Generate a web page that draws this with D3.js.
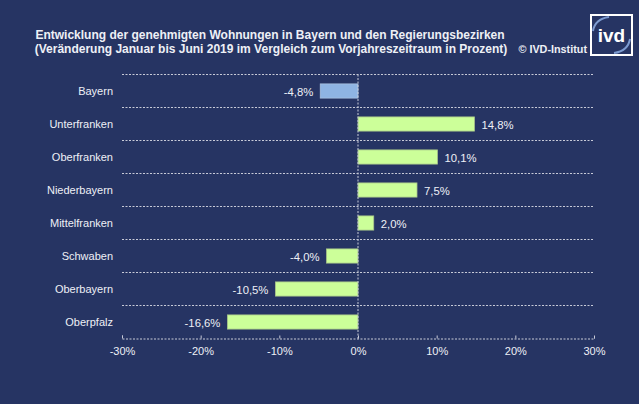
<!DOCTYPE html>
<html>
<head>
<meta charset="utf-8">
<script src="https://cdn.jsdelivr.net/npm/d3@7"></script>
<style>
  html, body { margin: 0; padding: 0; background: #263463; }
  svg { display: block; font-family: "Liberation Sans", Arial, sans-serif; }
</style>
</head>
<body>
<svg id="chart" width="639" height="404"></svg>
<script>
// data
const categories = ["Bayern", "Unterfranken", "Oberfranken", "Niederbayern", "Mittelfranken", "Schwaben", "Oberbayern", "Oberpfalz"];
const values = [-4.8, 14.8, 10.1, 7.5, 2.0, -4.0, -10.5, -16.6];
const ticks = [-30, -20, -10, 0, 10, 20, 30];
const titleLines = [
  "Entwicklung der genehmigten Wohnungen in Bayern und den Regierungsbezirken",
  "(Veränderung Januar bis Juni 2019 im Vergleich zum Vorjahreszeitraum in Prozent)"
];

const svg = d3.select("#chart");
const textColor = "#eef0f6";
const gridColor = "#c8cbd8";

svg.append("rect").attr("width", 639).attr("height", 404).attr("fill", "#263463");

// titel
svg.append("text")
  .attr("x", 270).attr("y", 39)
  .attr("text-anchor", "middle")
  .attr("font-size", 12).attr("font-weight", "bold")
  .attr("fill", textColor)
  .text(titleLines[0]);
svg.append("text")
  .attr("x", 271).attr("y", 53)
  .attr("text-anchor", "middle")
  .attr("font-size", 12).attr("font-weight", "bold")
  .attr("fill", textColor)
  .text(titleLines[1]);
svg.append("text")
  .attr("x", 587).attr("y", 53)
  .attr("text-anchor", "end")
  .attr("font-size", 10.8).attr("font-weight", "bold")
  .attr("fill", textColor)
  .text("© IVD-Institut");

// logo
const logo = svg.append("g").attr("transform", "translate(591,15)");
logo.append("rect").attr("x", 0).attr("y", 0).attr("width", 41).attr("height", 40)
  .attr("fill", "#263463").attr("stroke", "#ffffff").attr("stroke-width", 2);
logo.append("path").attr("d", "M2,16 Q4,4 18,2").attr("fill", "none")
  .attr("stroke", "#7d9bd0").attr("stroke-width", 2);
logo.append("path").attr("d", "M39,24 Q37,36 23,38").attr("fill", "none")
  .attr("stroke", "#7d9bd0").attr("stroke-width", 2);
logo.append("text").attr("x", 20.5).attr("y", 27)
  .attr("text-anchor", "middle").attr("font-size", 19).attr("font-weight", "bold")
  .attr("fill", "#ffffff").text("ivd");

// scales
const x = d3.scaleLinear().domain([-30, 30]).range([122, 594]);
const y = d3.scaleBand().domain(categories).range([74.5, 338.5]).paddingInner(0.57).paddingOuter(0.285);
const step = y.step();

// horizontal grid lines between rows
svg.append("g").selectAll("line")
  .data(d3.range(categories.length))
  .join("line")
  .attr("x1", x(-30)).attr("x2", x(30))
  .attr("y1", i => 74.5 + i * step).attr("y2", i => 74.5 + i * step)
  .attr("stroke", gridColor).attr("stroke-width", 1).attr("stroke-dasharray", "2,1.5");

// bars
svg.append("g").selectAll("rect")
  .data(categories)
  .join("rect")
  .attr("x", (d, i) => x(Math.min(0, values[i])))
  .attr("y", d => y(d))
  .attr("width", (d, i) => Math.abs(x(values[i]) - x(0)))
  .attr("height", y.bandwidth())
  .attr("fill", (d, i) => i === 0 ? "#8eb4e3" : "#ccff99")
  .attr("stroke", (d, i) => i === 0 ? "#a9c1e0" : "#a8c48a")
  .attr("stroke-width", 0.8);

// zero line
svg.append("line")
  .attr("x1", x(0)).attr("x2", x(0))
  .attr("y1", 74.5).attr("y2", 338.5)
  .attr("stroke", gridColor).attr("stroke-width", 1).attr("stroke-dasharray", "2,1.5");

// category labels
svg.append("g").selectAll("text")
  .data(categories)
  .join("text")
  .attr("x", 113)
  .attr("y", d => y(d) + y.bandwidth() / 2 + 4)
  .attr("text-anchor", "end")
  .attr("font-size", 11)
  .attr("fill", textColor)
  .text(d => d);

// value labels
const fmt = v => d3.format(".1f")(v).replace(".", ",").replace("−", "-") + "%";
svg.append("g").selectAll("text")
  .data(categories)
  .join("text")
  .attr("x", (d, i) => values[i] < 0 ? x(values[i]) - 7 : x(values[i]) + 7)
  .attr("y", d => y(d) + y.bandwidth() / 2 + 4.5)
  .attr("text-anchor", (d, i) => values[i] < 0 ? "end" : "start")
  .attr("font-size", 11.3)
  .attr("fill", textColor)
  .text((d, i) => fmt(values[i]));

// x axis
const axis = svg.append("g")
  .attr("transform", "translate(0,338.5)")
  .call(d3.axisBottom(x).tickValues(ticks).tickSize(-3).tickPadding(9)
    .tickFormat(d => d + "%"));
axis.select(".domain").attr("stroke", gridColor).attr("stroke-dasharray", "2,1.5");
axis.selectAll(".tick line").attr("stroke", gridColor);
axis.selectAll(".tick text")
  .attr("fill", textColor)
  .attr("font-size", 11)
  .attr("font-family", "Liberation Sans, Arial, sans-serif");
</script>
</body>
</html>
